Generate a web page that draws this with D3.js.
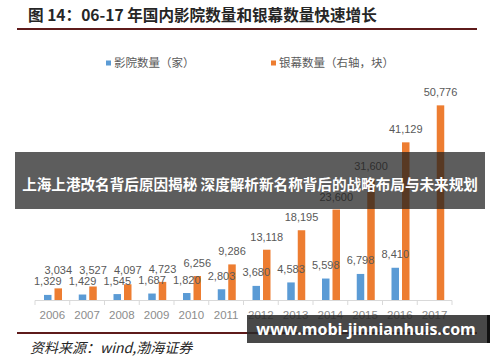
<!DOCTYPE html>
<html>
<head>
<meta charset="utf-8">
<script src="https://cdn.jsdelivr.net/npm/d3@7/dist/d3.min.js"></script>
<style>
  body { margin: 0; background: #fff; }
  svg { display: block; }
</style>
</head>
<body>
<div id="chart"></div>
<script>
// data
var years = ["2006","2007","2008","2009","2010","2011","2012","2013","2014","2015","2016","2017"];
var cinemas = [1329, 1429, 1545, 1687, 1820, 2803, 3680, 4583, 5598, 6798, 8410, null];
var screens = [3034, 3527, 4097, 4723, 6256, 9286, 13118, 18195, 23600, 31600, 41129, 50776];
var seriesNames = ["影院数量（家）", "银幕数量（右轴，块）"];

var width = 500, height = 362;
var blue = "#5B9BD5", orange = "#ED7D31";
var fmt = d3.format(",");

var svg = d3.select("#chart").append("svg")
  .attr("width", width)
  .attr("height", height);

svg.append("rect").attr("width", width).attr("height", height).attr("fill", "#fff");

// title + rule
svg.append("text")
  .attr("x", 28).attr("y", 21)
  .attr("font-family", "'Noto Sans CJK SC'")
  .attr("font-weight", "bold")
  .attr("font-size", "15.6px")
  .attr("fill", "#262626")
  .text("图 14：06-17 年国内影院数量和银幕数量快速增长");
svg.append("line")
  .attr("x1", 17).attr("x2", 477).attr("y1", 29).attr("y2", 29)
  .attr("stroke", "#5e1b1b").attr("stroke-width", 2.2);

// scales
var x = d3.scaleBand().domain(years).range([35, 452]).padding(0);
var xSub = d3.scaleBand().domain([0, 1]).range([9, 27]).paddingInner(0.286);
var y = d3.scaleLinear().domain([0, 60000]).range([300, 70]);

// legend
var legend = svg.append("g");
[[106, blue, seriesNames[0]], [271, orange, seriesNames[1]]].forEach(function (l) {
  legend.append("rect").attr("x", l[0]).attr("y", 60.5).attr("width", 5).attr("height", 5).attr("fill", l[1]);
  legend.append("text")
    .attr("x", l[0] + 8).attr("y", 67)
    .attr("font-family", "'Noto Sans CJK SC'")
    .attr("font-size", "11.5px")
    .attr("fill", "#595959")
    .text(l[2]);
});

// bars
var rows = years.map(function (yr, i) { return { year: yr, c: cinemas[i], s: screens[i] }; });

svg.selectAll(".barC")
  .data(rows.filter(function (d) { return d.c != null; }))
  .enter().append("rect")
  .attr("class", "barC")
  .attr("x", function (d) { return x(d.year) + xSub(0); })
  .attr("y", function (d) { return y(d.c); })
  .attr("width", xSub.bandwidth())
  .attr("height", function (d) { return y(0) - y(d.c); })
  .attr("fill", blue);

svg.selectAll(".barS")
  .data(rows)
  .enter().append("rect")
  .attr("class", "barS")
  .attr("x", function (d) { return x(d.year) + xSub(1); })
  .attr("y", function (d) { return y(d.s); })
  .attr("width", xSub.bandwidth())
  .attr("height", function (d) { return y(0) - y(d.s); })
  .attr("fill", orange);

// x axis line + ticks between categories
svg.append("line")
  .attr("x1", 35).attr("x2", 452).attr("y1", 300.5).attr("y2", 300.5)
  .attr("stroke", "#d9d9d9");
svg.selectAll(".tk")
  .data(years.concat(["end"]))
  .enter().append("line")
  .attr("x1", function (d) { return d == "end" ? 452 : x(d); })
  .attr("x2", function (d) { return d == "end" ? 452 : x(d); })
  .attr("y1", 300.5).attr("y2", 305)
  .attr("stroke", "#d9d9d9");

svg.selectAll(".yr")
  .data(years)
  .enter().append("text")
  .attr("x", function (d) { return x(d) + x.bandwidth() / 2; })
  .attr("y", 319)
  .attr("text-anchor", "middle")
  .attr("font-family", "'Liberation Sans'")
  .attr("font-size", "11.5px")
  .attr("fill", "#8c8c8c")
  .text(function (d) { return d; });

// value labels (orange ones pushed up when they would hit the blue ones)
function blueLabelY(d) { return y(d.c) - 9.5; }
svg.selectAll(".lblC")
  .data(rows.filter(function (d) { return d.c != null; }))
  .enter().append("text")
  .attr("x", function (d) { return x(d.year) + xSub(0) + xSub.bandwidth() / 2; })
  .attr("y", blueLabelY)
  .attr("text-anchor", "middle")
  .attr("font-family", "'Liberation Sans'")
  .attr("font-size", "11px")
  .attr("fill", "#595959")
  .text(function (d) { return fmt(d.c); });

svg.selectAll(".lblS")
  .data(rows)
  .enter().append("text")
  .attr("x", function (d) { return x(d.year) + xSub(1) + xSub.bandwidth() / 2; })
  .attr("y", function (d) {
    var yy = y(d.s) - 9;
    if (d.c != null) yy = Math.min(yy, blueLabelY(d) - 11);
    return yy;
  })
  .attr("text-anchor", "middle")
  .attr("font-family", "'Liberation Sans'")
  .attr("font-size", "11px")
  .attr("fill", "#595959")
  .text(function (d) { return fmt(d.s); });

// bottom rule + source
svg.append("line")
  .attr("x1", 17).attr("x2", 477).attr("y1", 333).attr("y2", 333)
  .attr("stroke", "#5e1b1b").attr("stroke-width", 2);
svg.append("text")
  .attr("x", 30).attr("y", 353)
  .attr("font-family", "'Noto Sans CJK SC'")
  .attr("font-style", "italic")
  .attr("font-size", "14px")
  .attr("fill", "#262626")
  .text("资料来源：wind,渤海证券");

// overlay banners
svg.append("rect")
  .attr("x", 15).attr("y", 152).attr("width", 470).attr("height", 57)
  .attr("fill", "rgba(30,30,30,0.72)");
svg.append("text")
  .attr("x", 250).attr("y", 190)
  .attr("text-anchor", "middle")
  .attr("font-family", "'Noto Sans CJK SC'")
  .attr("font-weight", "bold")
  .attr("font-size", "14.6px")
  .attr("fill", "#fff")
  .text("上海上港改名背后原因揭秘 深度解析新名称背后的战略布局与未来规划");

svg.append("rect")
  .attr("x", 247).attr("y", 315).attr("width", 243).attr("height", 28)
  .attr("fill", "rgba(40,40,40,0.85)");
svg.append("rect")
  .attr("x", 487).attr("y", 315).attr("width", 3).attr("height", 28)
  .attr("fill", "#111");
svg.append("text")
  .attr("x", 366).attr("y", 335)
  .attr("text-anchor", "middle")
  .attr("font-family", "'Open Sans'")
  .attr("font-weight", "bold")
  .attr("font-size", "16px")
  .attr("fill", "#fff")
  .text("www.mobi-jinnianhuis.com");
</script>
</body>
</html>
